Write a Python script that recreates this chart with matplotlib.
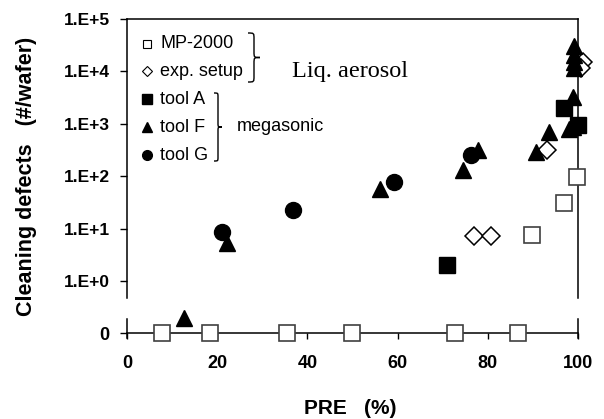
import matplotlib
matplotlib.use("Agg")
import matplotlib.pyplot as plt
from matplotlib.path import Path
from matplotlib.patches import PathPatch
from matplotlib.ticker import FixedLocator, NullLocator

plt.rcParams['font.family'] = ['Liberation Sans', 'DejaVu Sans']

# MP-2000 (open squares); the zero points sit on the "0" strip
mp_x = [89.8, 96.9, 99.8]
mp_y = [7.6, 31, 97]
mp_zero_x = [7.8, 18.4, 35.5, 49.8, 72.7, 86.7]
# exp. setup (open diamonds)
exp_x = [76.9, 80.7, 93.1, 101.2, 100.6]
exp_y = [7.3, 7.3, 320, 15000, 11500]
# tool A (filled squares)
a_x = [70.9, 96.9, 100.0]
a_y = [2.0, 2000, 950]
# tool F (triangles)
f_x = [12.7, 22.2, 56.2, 74.4, 77.8, 90.7, 93.6, 98.0, 98.9, 98.9, 99.1, 99.1, 99.1, 99.1]
f_y = [0.2, 5.3, 57, 132, 320, 295, 710, 780, 880, 3300, 11800, 15400, 21000, 30000]
# tool G (circles)
g_x = [21.1, 36.7, 59.1, 76.2]
g_y = [8.7, 23, 78, 257]

y_ticks = [1, 10, 100, 1e3, 1e4, 1e5]
y_labels = ['1.E+0', '1.E+1', '1.E+2', '1.E+3', '1.E+4', '1.E+5']
x_ticks = [0, 20, 40, 60, 80, 100]

W, H = 604, 419
fig = plt.figure(figsize=(W / 100, H / 100), dpi=100)

# upper log panel
ax = fig.add_axes([127 / W, (H - 298) / H, 451 / W, 279 / H])
ax.set_yscale('log')
ax.set_ylim(0.473, 1e5)
ax.set_xlim(0, 100)
ax.yaxis.set_major_locator(FixedLocator(y_ticks))
ax.yaxis.set_minor_locator(NullLocator())
ax.set_yticklabels(y_labels)
ax.tick_params(axis='y', direction='out', length=5, width=1, pad=7,
               labelsize=12.5)
for lab in ax.get_yticklabels():
    lab.set_fontweight('bold')
ax.tick_params(axis='x', bottom=False, labelbottom=False)
ax.spines['bottom'].set_visible(False)
for s in ['top', 'right', 'left']:
    ax.spines[s].set_linewidth(1.1)

# lower "0" strip
ax2 = fig.add_axes([127 / W, (H - 338) / H, 451 / W, 19 / H])
ax2.patch.set_visible(False)
ax2.set_xlim(0, 100)
ax2.set_ylim(-1, 3)
ax2.spines['top'].set_visible(False)
ax2.spines['bottom'].set_position(('data', 0))
for s in ['bottom', 'right', 'left']:
    ax2.spines[s].set_linewidth(1.1)
ax2.set_yticks([0])
ax2.set_yticklabels(['0'])
ax2.set_xticks(x_ticks)
ax2.set_xticklabels([str(v) for v in x_ticks])
ax2.tick_params(axis='y', direction='out', length=5, width=1, pad=8, labelsize=13)
ax2.tick_params(axis='x', direction='out', length=4, width=1, pad=12, labelsize=13)
for lab in ax2.get_yticklabels() + ax2.get_xticklabels():
    lab.set_fontweight('bold')

common = dict(linestyle='none', clip_on=False, zorder=4)
ax.plot(mp_x, mp_y, 's', ms=11, mfc='white', mec='#404040', mew=1.2, **common)
ax2.plot(mp_zero_x, [0] * len(mp_zero_x), 's', ms=11, mfc='white', mec='#404040', mew=1.2, **common)
ax.plot(exp_x, exp_y, 'D', ms=9.5, mfc='white', mec='black', mew=1.1, **common)
ax.plot(a_x, a_y, 's', ms=11, color='black', **common)
ax.plot(f_x, f_y, '^', ms=12, color='black', **common)
ax.plot(g_x, g_y, 'o', ms=11.5, color='black', **common)

# overlay in pixel coordinates for the hand-made legend
ov = fig.add_axes([0, 0, 1, 1])
ov.set_xlim(0, W)
ov.set_ylim(H, 0)
ov.axis('off')

rows = [44, 71.5, 99, 127, 155]
names = ['MP-2000', 'exp. setup', 'tool A', 'tool F', 'tool G']
ov.plot(147, rows[0], 's', ms=6, mfc='white', mec='black', mew=0.8)
ov.plot(147, rows[1], 'D', ms=4.6, mfc='white', mec='black', mew=0.8)
ov.plot(147, rows[2], 's', ms=6.5, color='black')
ov.plot(147, rows[3], '^', ms=7, color='black')
ov.plot(147, rows[4], 'o', ms=7, color='black')
for yy, nm in zip(rows, names):
    ov.text(160, yy, nm, va='center', ha='left', fontsize=13)


def brace(x0, yt, yb, w):
    ym = (yt + yb) / 2
    xm = x0 + w * 0.5
    r = w * 0.5
    verts = [(x0, yt), (xm, yt), (xm, yt), (xm, yt + r),
             (xm, ym - r), (xm, ym), (xm, ym), (x0 + w, ym),
             (xm, ym), (xm, ym), (xm, ym + r),
             (xm, yb - r), (xm, yb), (xm, yb), (x0, yb)]
    codes = [Path.MOVETO, Path.CURVE4, Path.CURVE4, Path.CURVE4,
             Path.LINETO, Path.CURVE4, Path.CURVE4, Path.CURVE4,
             Path.CURVE4, Path.CURVE4, Path.CURVE4,
             Path.LINETO, Path.CURVE4, Path.CURVE4, Path.CURVE4]
    ov.add_patch(PathPatch(Path(verts, codes), fill=False, lw=1.0, edgecolor='black'))


brace(248, 33, 82, 12)
brace(214, 93, 161, 8)
ov.text(292, 72, 'Liq. aerosol', family='Liberation Serif', fontsize=17.5,
        va='center', ha='left')
ov.text(237, 126, 'megasonic', fontsize=13, va='center', ha='left')

fig.text(27 / W, 1 - 176 / H, 'Cleaning defects   (#/wafer)', rotation=90,
         ha='center', va='center', fontsize=15.5, fontweight='bold')
fig.text(350 / W, 1 - 408 / H, 'PRE   (%)', ha='center', va='center',
         fontsize=15, fontweight='bold')

fig.savefig('out.png', dpi=100)
